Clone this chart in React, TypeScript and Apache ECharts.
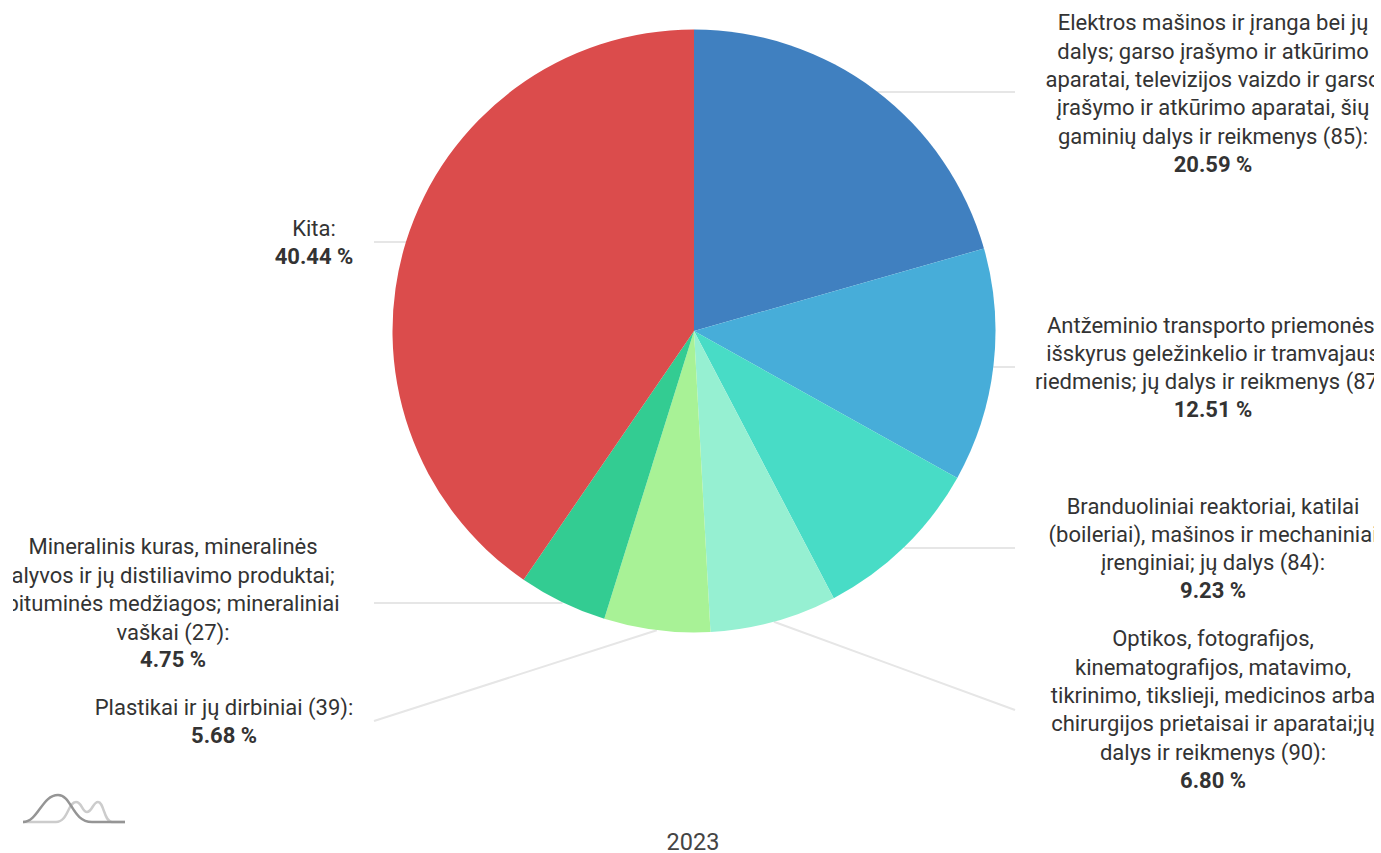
import React, { useEffect, useRef } from "react";
import * as echarts from "echarts";

const categories = [
  "Elektros mašinos ir įranga bei jų\ndalys; garso įrašymo ir atkūrimo\naparatai, televizijos vaizdo ir garso\nįrašymo ir atkūrimo aparatai, šių\ngaminių dalys ir reikmenys (85):",
  "Antžeminio transporto priemonės,\nišskyrus geležinkelio ir tramvajaus\nriedmenis; jų dalys ir reikmenys (87):",
  "Branduoliniai reaktoriai, katilai\n(boileriai), mašinos ir mechaniniai\nįrenginiai; jų dalys (84):",
  "Optikos, fotografijos,\nkinematografijos, matavimo,\ntikrinimo, tikslieji, medicinos arba\nchirurgijos prietaisai ir aparatai;jų\ndalys ir reikmenys (90):",
  "Plastikai ir jų dirbiniai (39):",
  "Mineralinis kuras, mineralinės\nalyvos ir jų distiliavimo produktai;\nbituminės medžiagos; mineraliniai\nvaškai (27):",
  "Kita:",
];
const values = [20.59, 12.51, 9.23, 6.8, 5.68, 4.75, 40.44];
const colors = ["#4080c0", "#47add9", "#48dcc6", "#96f0d2", "#a8f296", "#33cc92", "#db4c4c"];
const valueLabels = ["20.59 %", "12.51 %", "9.23 %", "6.80 %", "5.68 %", "4.75 %", "40.44 %"];

// label centre x, and end of each leader line (chart coordinates: page x - 13)
const labelCentreX = [1200, 1200, 1200, 1200, 211, 160, 301];
const labelNudgeY = [1, 0, 0, -1, 0, 0, 0];
const lineEnd: number[][] = [
  [1002, 92], [1002, 367], [1002, 548], [1002, 710], [361, 721], [361, 603], [361, 242],
];

const dark = "M23 822 C38 822 42 795 58 795 C72 795 72 822 92 822 L125 822";
const light = "M23 822 L56 822 C68 822 68 802 76 802 C82 802 82 812 87 812 C92 812 93 802 98 802 C104 802 104 822 112 822 L125 822";
echarts.graphic.registerShape("logoDark", echarts.graphic.extendPath(dark, {}));
echarts.graphic.registerShape("logoLight", echarts.graphic.extendPath(light, {}));

export default function App() {
  const ref = useRef<HTMLDivElement>(null);
  useEffect(() => {
    const chart = echarts.init(ref.current!, undefined, { renderer: "svg" });
    chart.setOption({
      animation: false,
      backgroundColor: "#fff",
      graphic: [
        { type: "logoLight", style: { fill: "none", stroke: "#cccccc", lineWidth: 2.5 }, x: -13, y: 0 },
        { type: "logoDark", style: { fill: "none", stroke: "#959595", lineWidth: 2.5 }, x: -13, y: 0 },
        {
          type: "text",
          x: 680,
          y: 842,
          style: {
            text: "2023",
            align: "center",
            verticalAlign: "middle",
            fontFamily: "Roboto",
            fontSize: 23.5,
            lineHeight: 20,
            fontWeight: 400,
            fill: "#444",
          },
        },
      ],
      series: [
        {
          type: "pie",
          center: [681, 331],
          radius: [0, 301.5],
          startAngle: 90,
          clockwise: true,
          avoidLabelOverlap: false,
          data: categories.map((name, i) => ({
            name,
            value: values[i],
            itemStyle: { color: colors[i] },
            label: { formatter: () => `{a|${name.split("\n").join("}\n{a|")}}\n{b|${valueLabels[i]}}` },
          })),
          label: {
            show: true,
            position: "outside",
            overflow: "none",
            align: "center",
            rich: {
              a: { fontFamily: "Roboto", fontSize: 22, lineHeight: 28.4, color: "#333", align: "center" },
              b: { fontFamily: "Roboto", fontSize: 22, lineHeight: 27, fontWeight: 700, color: "#333", align: "center" },
            },
          },
          labelLine: { show: true, length: 15, length2: 15, smooth: false, lineStyle: { color: "#e6e6e6", width: 2 } },
          labelLayout: (p: any) => {
            const i = p.dataIndex;
            const [ex, ey] = lineEnd[i];
            const first = p.labelLinePoints[0];
            const start = Math.abs(first[1] - ey) < 4 ? [first[0], ey] : first;
            return {
              x: labelCentreX[i],
              y: ey + labelNudgeY[i],
              align: "center",
              verticalAlign: "middle",
              labelLinePoints: [start, [(start[0] + ex) / 2, (start[1] + ey) / 2], [ex, ey]],
            };
          },
        },
      ],
    });
    return () => chart.dispose();
  }, []);
  return (
    <div style={{ position: "fixed", inset: 0, background: "#fff" }}>
      <div ref={ref} style={{ position: "absolute", left: 13, top: 0, width: 1361, height: 853 }} />
    </div>
  );
}
